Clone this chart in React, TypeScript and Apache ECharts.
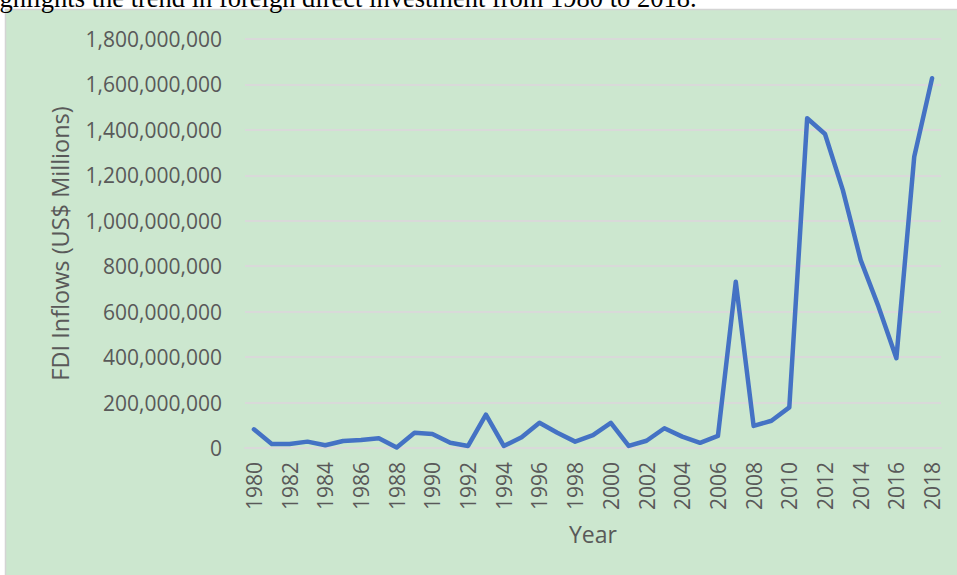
import React, { useEffect, useRef } from "react";
import * as echarts from "echarts";

const years: string[] = [
  "1980", "1981", "1982", "1983", "1984", "1985", "1986", "1987", "1988", "1989",
  "1990", "1991", "1992", "1993", "1994", "1995", "1996", "1997", "1998", "1999",
  "2000", "2001", "2002", "2003", "2004", "2005", "2006", "2007", "2008", "2009",
  "2010", "2011", "2012", "2013", "2014", "2015", "2016", "2017", "2018",
];

const fdiInflows: number[] = [
  82e6, 18e6, 18e6, 28e6, 12e6, 31e6, 35e6, 43e6, 2e6, 67e6,
  62e6, 23e6, 9e6, 147e6, 9e6, 47e6, 111e6, 67e6, 28e6, 57e6,
  111e6, 9e6, 32e6, 87e6, 50e6, 23e6, 53e6, 732e6, 97e6, 120e6,
  179e6, 1451e6, 1382e6, 1135e6, 827e6, 622e6, 395e6, 1282e6, 1627e6,
];

const captionText = "highlights the trend in foreign direct investment from 1980 to 2018.";
const yAxisTitle = "FDI Inflows (US$ Millions)";
const xAxisTitle = "Year";

export default function App() {
  const ref = useRef<HTMLDivElement>(null);

  useEffect(() => {
    if (!ref.current) return;
    const chart = echarts.init(ref.current, undefined, { renderer: "svg" });
    const textColor = "#595959";
    const font = "'Open Sans', sans-serif";
    chart.setOption({
      animation: false,
      backgroundColor: "#cce7cf",
      grid: { left: 245, right: 16, top: 39, bottom: 127, containLabel: false },
      xAxis: {
        type: "category",
        data: years,
        boundaryGap: true,
        axisLine: { lineStyle: { color: "#d9d9d9", width: 2 } },
        axisTick: { show: false },
        axisLabel: {
          interval: 1,
          rotate: 90,
          margin: 14,
          color: textColor,
          fontFamily: font,
          fontSize: 21,
        },
        name: xAxisTitle,
        nameLocation: "middle",
        nameGap: 74,
        nameTextStyle: { color: textColor, fontFamily: font, fontSize: 23 },
      },
      yAxis: {
        type: "value",
        min: 0,
        max: 1800000000,
        interval: 200000000,
        axisLine: { show: false },
        axisTick: { show: false },
        splitLine: { lineStyle: { color: "#d9d9d9", width: 2 } },
        axisLabel: {
          margin: 23,
          color: textColor,
          fontFamily: font,
          fontSize: 21,
          formatter: (v: number) => v.toLocaleString("en-US"),
        },
        name: yAxisTitle,
        nameLocation: "middle",
        nameGap: 173,
        nameTextStyle: { color: textColor, fontFamily: font, fontSize: 23.5 },
      },
      series: [
        {
          type: "line",
          data: fdiInflows,
          symbol: "none",
          lineStyle: { color: "#4472c4", width: 4.5, join: "round", cap: "round" },
        },
      ],
      graphic: {
        elements: [
          { type: "rect", shape: { x: 0, y: 0, width: 957, height: 9 }, style: { fill: "#ffffff" }, z: 100 },
          { type: "rect", shape: { x: 0, y: 0, width: 5, height: 575 }, style: { fill: "#ffffff" }, z: 100 },
          { type: "line", shape: { x1: 5, y1: 9.5, x2: 957, y2: 9.5 }, style: { stroke: "#d4d4d4", lineWidth: 1.5 }, z: 101 },
          { type: "line", shape: { x1: 5.5, y1: 9, x2: 5.5, y2: 575 }, style: { stroke: "#d4d4d4", lineWidth: 1.5 }, z: 101 },
          {
            type: "text",
            x: -21,
            y: -16,
            z: 102,
            style: {
              text: captionText,
              fill: "#000000",
              font: "26.5px 'Liberation Serif', 'Times New Roman', serif",
              align: "left",
              verticalAlign: "top",
            },
          },
        ],
      },
    });
    return () => chart.dispose();
  }, []);

  return (
    <div
      ref={ref}
      style={{ position: "fixed", left: 0, top: 0, width: 957, height: 575, overflow: "hidden" }}
    />
  );
}
